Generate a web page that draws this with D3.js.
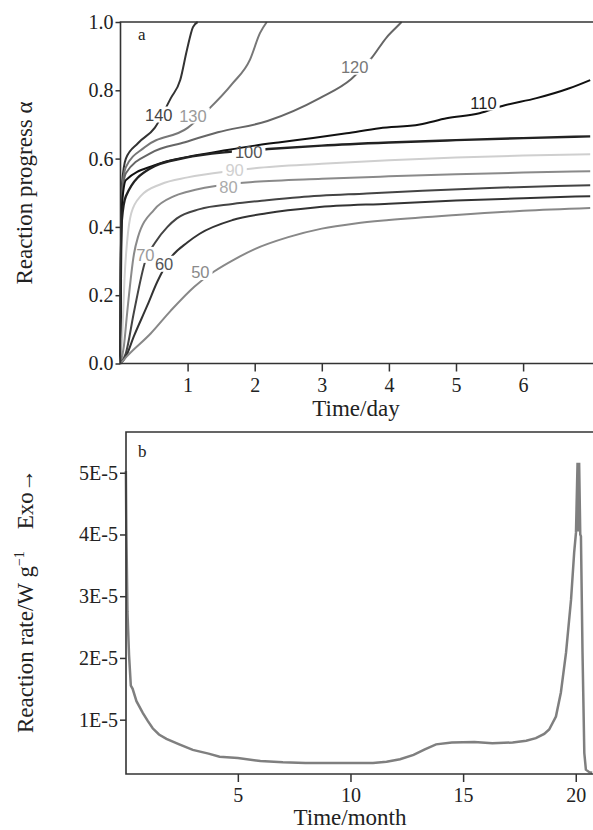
<!DOCTYPE html>
<html>
<head>
<meta charset="utf-8">
<title>Isoconversion curves and reaction rate</title>
<script src="https://d3js.org/d3.v7.min.js"></script>
<style>
  body { margin: 0; background: #fff; }
  .tick text { font-family: "Liberation Serif", "Times New Roman", serif; font-size: 20px; fill: #222; }
</style>
</head>
<body>
<div id="chart"></div>
<script>
// ---- panel a : reaction progress vs time (days), one curve per temperature
var temps = [140, 130, 120, 110, 100, 90, 80, 70, 60, 50];

var t140 = [0, 0.005, 0.02, 0.08, 0.26, 0.51, 0.75, 0.89, 0.99, 1.08, 1.15];
var a140 = [0, 0.30, 0.52, 0.60, 0.645, 0.69, 0.777, 0.83, 0.918, 0.985, 1.0];

var t130 = [0, 0.005, 0.02, 0.08, 0.36, 1.0, 1.3, 1.67, 1.93, 2.08, 2.18];
var a130 = [0, 0.30, 0.50, 0.575, 0.633, 0.69, 0.742, 0.82, 0.89, 0.968, 1.0];

var t120 = [0, 0.005, 0.02, 0.08, 0.45, 0.96, 1.45, 2.19, 2.97, 3.44, 3.74, 3.97, 4.16, 4.19];
var a120 = [0, 0.28, 0.48, 0.557, 0.616, 0.648, 0.677, 0.71, 0.777, 0.833, 0.894, 0.956, 0.994, 1.0];

var t110 = [0, 0.005, 0.02, 0.08, 0.5, 1, 1.5, 2, 2.38, 2.87, 3.37, 3.86, 4.46, 4.86, 5.35, 5.69, 6.2, 6.69, 7];
var a110 = [0, 0.27, 0.46, 0.537, 0.58, 0.605, 0.622, 0.638, 0.648, 0.66, 0.674, 0.689, 0.70, 0.718, 0.733, 0.754, 0.777, 0.806, 0.83];

var t100 = [0, 0.005, 0.02, 0.08, 0.45, 0.96, 1.63, 2.2, 3, 4, 5, 6, 7];
var a100 = [0, 0.25, 0.42, 0.49, 0.572, 0.602, 0.62, 0.628, 0.638, 0.647, 0.654, 0.66, 0.665];

var t90 = [0, 0.03, 0.06, 0.1, 0.16, 0.3, 0.6, 1, 1.7, 2, 3, 4, 5, 6, 7];
var a90 = [0, 0.10, 0.25, 0.36, 0.44, 0.49, 0.525, 0.545, 0.565, 0.572, 0.585, 0.595, 0.603, 0.609, 0.613];

var t80 = [0, 0.05, 0.1, 0.2, 0.26, 0.5, 0.8, 1, 1.6, 2, 3, 4, 5, 6, 7];
var a80 = [0, 0.05, 0.15, 0.32, 0.37, 0.45, 0.49, 0.503, 0.525, 0.532, 0.541, 0.548, 0.554, 0.559, 0.563];

var t70 = [0, 0.08, 0.2, 0.37, 0.52, 0.7, 0.84, 1.18, 1.67, 2.18, 2.67, 3.67, 4.5, 5.5, 6.5, 7];
var a70 = [0, 0.03, 0.15, 0.30, 0.355, 0.40, 0.425, 0.452, 0.467, 0.478, 0.487, 0.498, 0.506, 0.514, 0.52, 0.522];

var t60 = [0, 0.08, 0.2, 0.4, 0.55, 0.75, 1.0, 1.18, 1.67, 2.18, 2.9, 4, 5, 6, 7];
var a60 = [0, 0.02, 0.08, 0.17, 0.24, 0.31, 0.355, 0.38, 0.42, 0.44, 0.457, 0.468, 0.477, 0.484, 0.49];

var t50 = [0, 0.08, 0.45, 0.75, 1.1, 1.4, 1.7, 2.0, 2.5, 3, 3.5, 4, 5, 6, 7];
var a50 = [0, 0.018, 0.088, 0.155, 0.225, 0.27, 0.305, 0.335, 0.37, 0.395, 0.41, 0.42, 0.435, 0.447, 0.455];

// where each temperature label sits on its curve
var labelT = [0.57, 1.08, 3.49, 5.41, 1.91, 1.70, 1.61, 0.37, 0.65, 1.19];
var labelA = [0.729, 0.726, 0.869, 0.764, 0.62, 0.568, 0.518, 0.318, 0.292, 0.268];

var dayTicks = [1, 2, 3, 4, 5, 6];
var alphaTicks = [0, 0.2, 0.4, 0.6, 0.8, 1.0];

// ---- panel b : reaction rate (in units of 1E-5 W/g) vs time (months)
var months = [0.03, 0.05, 0.1, 0.17, 0.25, 0.33, 0.5, 0.78, 1.0, 1.22, 1.5, 1.83, 2.4, 3.0, 3.7, 4.19,
  5, 6, 7, 8, 9, 10, 11, 11.6, 12.2, 12.8, 13.3, 13.8, 14.5, 15.5, 16.3, 17.2, 17.8, 18.23, 18.6,
  18.82, 19.12, 19.34, 19.57, 19.79, 19.93, 20.01, 20.08, 20.12, 20.15, 20.2, 20.23, 20.3, 20.38,
  20.45, 20.6, 20.73];
var rate = [5.03, 4.1, 2.75, 2.05, 1.55, 1.5, 1.3, 1.11, 0.98, 0.86, 0.76, 0.69, 0.6, 0.51, 0.45, 0.40,
  0.38, 0.33, 0.31, 0.30, 0.30, 0.30, 0.30, 0.32, 0.36, 0.43, 0.52, 0.60, 0.63, 0.64, 0.62, 0.63, 0.66,
  0.70, 0.77, 0.84, 1.05, 1.44, 2.09, 2.94, 3.71, 4.03, 5.16, 4.05, 5.16, 4.0, 3.97, 2.09, 0.46,
  0.19, 0.15, 0.14];

var monthTicks = [5, 10, 15, 20];
var rateTicks = [1, 2, 3, 4, 5];

// styles
var lineColor = {140: "#333", 130: "#777", 120: "#666", 110: "#111", 100: "#222",
                 90: "#cfcfcf", 80: "#8a8a8a", 70: "#444", 60: "#333", 50: "#888"};
var lineWidth = {100: 2.4};
var labelColor = {140: "#444", 130: "#9a9a9a", 120: "#777", 110: "#222", 100: "#555",
                  90: "#d0d0d0", 80: "#aaa", 70: "#999", 60: "#555", 50: "#8a8a8a"};

var width = 593, height = 830;
var serif = '"Liberation Serif", "Times New Roman", serif';

var svg = d3.select("#chart").append("svg")
    .attr("width", width)
    .attr("height", height)
    .style("background", "#fff");
var defs = svg.append("defs");

// ======================= panel a =======================
var xa = d3.scaleLinear().domain([0, 7]).range([120.5, 590.2]);
var ya = d3.scaleLinear().domain([0, 1]).range([363.5, 22]);

var curvesA = {140: [t140, a140], 130: [t130, a130], 120: [t120, a120], 110: [t110, a110],
               100: [t100, a100], 90: [t90, a90], 80: [t80, a80], 70: [t70, a70],
               60: [t60, a60], 50: [t50, a50]};

var lineA = d3.line()
    .x(function(d) { return xa(d[0]); })
    .y(function(d) { return ya(d[1]); })
    .curve(d3.curveMonotoneX);

var gLines = svg.append("g");
var gLabels = svg.append("g");

temps.forEach(function(T, i) {
  var txt = gLabels.append("text")
      .attr("x", xa(labelT[i]))
      .attr("y", ya(labelA[i]))
      .attr("text-anchor", "middle")
      .attr("dominant-baseline", "central")
      .attr("font-family", '"Liberation Sans", Arial, sans-serif')
      .attr("font-size", 16.5)
      .attr("fill", labelColor[T])
      .text(T);
  var bb = txt.node().getBBox();
  var m = defs.append("mask").attr("id", "mask" + T).attr("maskUnits", "userSpaceOnUse")
      .attr("x", 0).attr("y", 0).attr("width", width).attr("height", height);
  m.append("rect").attr("width", width).attr("height", height).attr("fill", "#fff");
  m.append("rect").attr("x", bb.x - 3).attr("y", bb.y + 1).attr("width", bb.width + 6)
      .attr("height", bb.height - 2).attr("fill", "#000");

  var pts = curvesA[T][0].map(function(t, k) { return [t, curvesA[T][1][k]]; });
  gLines.append("path")
      .attr("d", lineA(pts))
      .attr("fill", "none")
      .attr("stroke", lineColor[T])
      .attr("stroke-width", lineWidth[T] || 2)
      .attr("mask", "url(#mask" + T + ")");
});

// axes of panel a
var axA = svg.append("g");
axA.append("g")
    .attr("transform", "translate(0," + ya(0) + ")")
    .call(d3.axisBottom(xa).tickValues(dayTicks).tickSize(8).tickPadding(6).tickFormat(d3.format("d")))
    .call(function(g) { g.select(".domain").remove(); });
axA.append("g")
    .attr("transform", "translate(" + xa(0) + ",0)")
    .call(d3.axisLeft(ya).tickValues(alphaTicks).tickSize(5).tickPadding(2).tickFormat(d3.format(".1f")))
    .call(function(g) { g.select(".domain").remove(); });
axA.selectAll(".tick line").attr("stroke", "#333").attr("stroke-width", 1.5);

// frame: left, bottom, top
axA.append("path")
    .attr("d", "M" + width + "," + ya(1) + "H" + xa(0) + "V" + ya(0) + "H" + width)
    .attr("fill", "none").attr("stroke", "#333").attr("stroke-width", 1.6);

svg.append("text").attr("x", 138).attr("y", 40)
    .attr("font-family", serif).attr("font-size", 17).attr("fill", "#222").text("a");

svg.append("text")
    .attr("x", 356).attr("y", 416)
    .attr("text-anchor", "middle")
    .attr("font-family", serif).attr("font-size", 23).attr("fill", "#222")
    .text("Time/day");

svg.append("text")
    .attr("transform", "translate(32,193) rotate(-90)")
    .attr("text-anchor", "middle")
    .attr("font-family", serif).attr("font-size", 23).attr("fill", "#222")
    .text("Reaction progress \u03b1");

// ======================= panel b =======================
var xb = d3.scaleLinear().domain([0, 20.73]).range([125.2, 592.2]);
var yb = d3.scaleLinear().domain([0.12, 5.66]).range([774, 432]);

var lineB = d3.line()
    .x(function(d) { return xb(d[0]); })
    .y(function(d) { return yb(d[1]); });

svg.append("path")
    .attr("d", lineB(months.map(function(m, k) { return [m, rate[k]]; })))
    .attr("fill", "none")
    .attr("stroke", "#7f7f7f")
    .attr("stroke-width", 2.5);

var axB = svg.append("g");
axB.append("g")
    .attr("transform", "translate(0," + yb(0.12) + ")")
    .call(d3.axisBottom(xb).tickValues(monthTicks).tickSize(8).tickPadding(6).tickFormat(d3.format("d")))
    .call(function(g) { g.select(".domain").remove(); });
axB.append("g")
    .attr("transform", "translate(126,0)")
    .call(d3.axisLeft(yb).tickValues(rateTicks).tickSize(6).tickPadding(2)
      .tickFormat(function(d) { return d + "E-5"; }))
    .call(function(g) { g.select(".domain").remove(); });
axB.selectAll(".tick line").attr("stroke", "#333").attr("stroke-width", 1.5);

axB.append("path")
    .attr("d", "M" + width + "," + yb(5.66) + "H126V" + yb(0.12) + "H" + width)
    .attr("fill", "none").attr("stroke", "#333").attr("stroke-width", 1.6);

svg.append("text").attr("x", 138).attr("y", 457)
    .attr("font-family", serif).attr("font-size", 17).attr("fill", "#222").text("b");

svg.append("text")
    .attr("x", 350).attr("y", 825)
    .attr("text-anchor", "middle")
    .attr("font-family", serif).attr("font-size", 23).attr("fill", "#222")
    .text("Time/month");

var yTitle = svg.append("text")
    .attr("transform", "translate(33,733) rotate(-90)")
    .attr("font-family", serif).attr("font-size", 23).attr("fill", "#222");
yTitle.append("tspan").text("Reaction rate/W g");
yTitle.append("tspan").attr("dy", -9).attr("font-size", 14).text("\u22121");
yTitle.append("tspan").attr("dy", 9).attr("dx", 22).text("Exo\u2192");
</script>
</body>
</html>
